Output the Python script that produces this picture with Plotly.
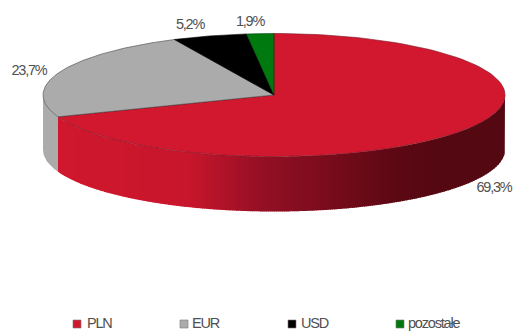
import numpy as np
import plotly.graph_objects as go

categories = ["PLN", "EUR", "USD", "pozostałe"]
values = [69.3, 23.7, 5.2, 1.9]
value_labels = ["69,3%", "23,7%", "5,2%", "1,9%"]
colors = ["#D2182F", "#ABABAB", "#000000", "#007A0E"]
label_pos = [(494, 188), (29, 71), (190, 25), (250, 22)]
legend_x = [77, 184, 292, 400]
legend_text_x = [87, 192, 301, 408]
legend_y = 324

CX, CY, RX, RY, DEPTH = 274, 95, 231, 61.5, 55
# gradient of the red wall: (pixel x, colour rgb)
grad_x = [58, 190, 260, 330, 400, 440, 505]
grad_r = [208, 200, 150, 120, 92, 84, 84]
grad_g = [24, 22, 16, 12, 8, 8, 8]
grad_b = [46, 44, 36, 28, 20, 18, 18]

def ell(deg):
    t = np.radians(deg)
    return CX + RX * np.sin(t), CY - RY * np.cos(t)

fig = go.Figure()
total = sum(values)
edges = np.concatenate([[0], np.cumsum(values) / total * 360])

def poly(x, y, fill, line="rgba(0,0,0,0)", w=0):
    fig.add_trace(go.Scatter(x=list(x), y=list(y), mode="lines", fill="toself",
                             fillcolor=fill, line=dict(color=line, width=w),
                             hoverinfo="skip", showlegend=False))

# grey wall (left of the PLN end)
a = np.linspace(edges[1], 270, 20)
xe, ye = ell(a)
poly(np.r_[xe, xe[::-1]], np.r_[ye, ye[::-1] + DEPTH], colors[1])

# red wall, gradient strips
x_end = ell(edges[1])[0]
strip_x = np.arange(x_end, CX + RX, 2.0)
for x0 in strip_x:
    x1 = min(x0 + 2.6, CX + RX)
    xs = np.linspace(x0, x1, 4)
    ys = CY + RY * np.sqrt(np.clip(1 - ((xs - CX) / RX) ** 2, 0, 1))
    xm = x0 + 1
    c = "rgb(%d,%d,%d)" % (np.interp(xm, grad_x, grad_r), np.interp(xm, grad_x, grad_g), np.interp(xm, grad_x, grad_b))
    poly(np.r_[xs, xs[::-1]], np.r_[ys, ys[::-1] + DEPTH], c)

# top slices
line_cols = ["#7a1020", "#444444", "#000000", "#00400a"]
for i in range(4):
    a = np.linspace(edges[i], edges[i + 1], 120)
    xe, ye = ell(a)
    poly(np.r_[CX, xe, CX], np.r_[CY, ye, CY], colors[i], line_cols[i], 0.6)

# value labels
fig.add_trace(go.Scatter(x=[p[0] for p in label_pos], y=[p[1] for p in label_pos],
                         mode="text", text=value_labels,
                         textfont=dict(family="Liberation Sans", size=14.5, color="#505050"),
                         hoverinfo="skip", showlegend=False))
# legend swatches and names
fig.add_trace(go.Scatter(x=legend_x, y=[legend_y] * 4, mode="markers",
                         marker=dict(symbol="square", size=8, color=colors,
                                     line=dict(color="#777777", width=0.6)),
                         hoverinfo="skip", showlegend=False))
fig.add_trace(go.Scatter(x=legend_text_x, y=[legend_y] * 4, mode="text", text=categories,
                         textposition="middle right",
                         textfont=dict(family="Liberation Sans", size=14.5, color="#505050"),
                         hoverinfo="skip", showlegend=False))

fig.update_layout(width=514, height=331, margin=dict(l=0, r=0, t=0, b=0),
                  paper_bgcolor="white", plot_bgcolor="white", showlegend=False,
                  xaxis=dict(range=[0, 514], visible=False, fixedrange=True),
                  yaxis=dict(range=[331, 0], visible=False, fixedrange=True))
post = ("document.body.style.margin='0';document.body.style.overflow='hidden';"
        "document.querySelectorAll('.textpoint text').forEach(function(t){t.style.letterSpacing='-1.2px';});")
fig.write_html("out.html", config={"displayModeBar": False}, post_script=post)
